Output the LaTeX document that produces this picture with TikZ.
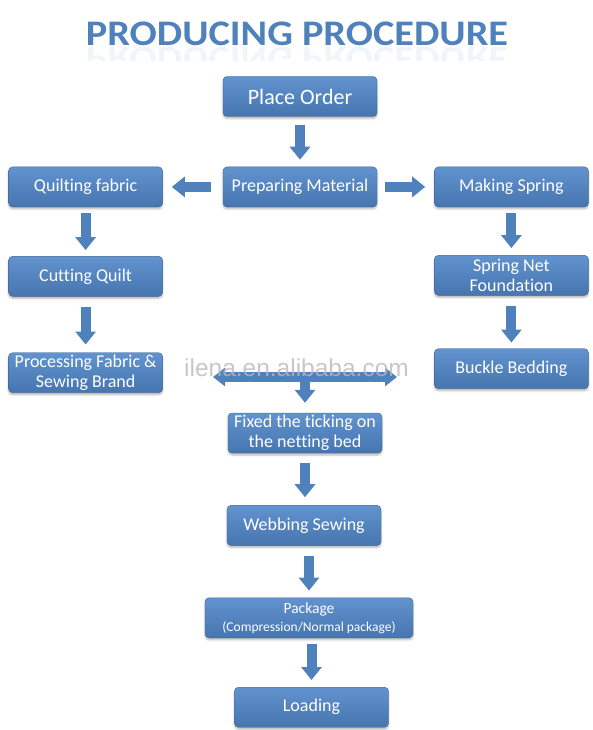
\documentclass[tikz,border=0pt]{standalone}
\usepackage{fontspec}
\setmainfont{Carlito}[Ligatures=NoCommon]
\newfontfamily\wmfont{Liberation Sans}
\usepackage{xcolor}
\usetikzlibrary{positioning,calc,arrows.meta,shadows.blur}
\definecolor{boxblue}{RGB}{79,129,189}
\definecolor{boxtop}{RGB}{98,147,206}
\definecolor{boxbot}{RGB}{70,117,175}
\definecolor{boxedge}{RGB}{62,102,152}

\begin{document}
\begin{tikzpicture}[x=1pt,y=1pt,font=\fontsize{18}{20.5}\selectfont,
 b/.style={draw=boxedge,rounded corners=4pt,align=center,text=white,inner sep=1pt,minimum width=154pt,minimum height=40pt,
  top color=boxtop,bottom color=boxbot,blur shadow={shadow xshift=0pt,shadow yshift=-2pt,shadow opacity=30}},
 ar/.style={-{Triangle[length=13pt,width=20pt]},line width=10pt,draw=boxblue,shorten <=8pt,shorten >=7pt},
 ttl/.style={font=\fontsize{36}{40}\selectfont\bfseries,text=boxblue,anchor=base,xscale=1.12,transform shape}]
\useasboundingbox (0,0) rectangle (593,-730);
% title and its faint mirror
\node[ttl] (title) at (297,-46) {PRODUCING PROCEDURE};
\begin{scope}
\clip (80,-47) rectangle (515,-61);
\node[ttl,yscale=-1,opacity=.08] (mirror) at (297,-48) {PRODUCING PROCEDURE};
\end{scope}
\node[b,font=\fontsize{22}{24}\selectfont] (order) at (300,-96.5) {Place Order};
\node[b,below=50pt of order] (prep) {Preparing Material};
\node[b,left=60pt of prep] (quilt) {Quilting fabric};
\node[b,right=57pt of prep] (spring) {Making Spring};
\node[b,below=49pt of quilt] (cut) {Cutting Quilt};
\node[b,below=48pt of spring] (net) {Spring Net\\ Foundation};
\node[b,below=56pt of cut] (proc) {Processing Fabric \&\\ Sewing Brand};
\node[b,below=53pt of net] (buckle) {Buckle Bedding};
\node[b] (fixed) at (305,-433) {Fixed the ticking on\\ the netting bed};
\node[b,below=52pt of fixed,xshift=-1pt] (web) {Webbing Sewing};
\node[b,below=52pt of web,xshift=5pt,minimum width=208pt,font=\fontsize{15.5}{18}\selectfont] (pack)
 {Package\\ {\fontsize{13.5}{16}\selectfont(Compression/Normal package)}};
\node[b,below=49pt of pack,xshift=2.5pt] (load) {Loading};
\coordinate (jl) at (213,-377); \coordinate (jr) at (397,-377); \coordinate (jm) at (305,-377);
\draw[ar] (order) -- (prep);
\draw[ar,shorten <=12pt,shorten >=9pt] (prep) -- (quilt);
\draw[ar,shorten >=9pt] (prep) -- (spring);
\draw[ar,shorten <=6pt,shorten >=6pt] (quilt) -- (cut);
\draw[ar,shorten <=10pt,shorten >=8pt] (cut) -- (proc);
\draw[ar,shorten <=6pt] (spring) -- (net);
\draw[ar,shorten <=10pt,shorten >=6pt] (net) -- (buckle);
\draw[ar,{Triangle[length=12pt,width=18pt]}-{Triangle[length=12pt,width=18pt]},shorten <=0pt,shorten >=0pt] (jl) -- (jr);
\draw[ar,shorten <=0pt,shorten >=10pt] (jm) -- (fixed);
\draw[ar,shorten <=10pt,shorten >=8pt] (fixed.south) -- (fixed.south |- web.north);
\draw[ar,shorten <=10pt] (web.south -| pack) -- (pack.north);
\draw[ar,shorten <=6pt] (pack.south -| load) -- (load.north);
\node[font=\wmfont\fontsize{24.5}{26}\selectfont,text=gray!55,opacity=.8,anchor=base] (wm) at (296.5,-376) {ilena.en.alibaba.com};
\end{tikzpicture}
\end{document}
